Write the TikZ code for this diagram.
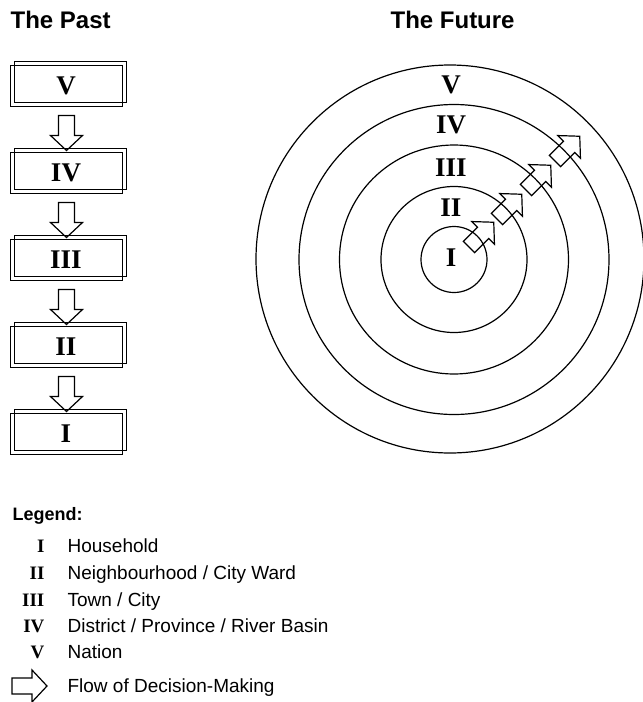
\documentclass[tikz,border=0pt]{standalone}
\usepackage{fontspec}
\setmainfont{Liberation Serif}
\setsansfont{Liberation Sans}
\usetikzlibrary{calc}

\tikzset{flowarrow/.pic={
  \draw[line join=miter] (0,-8) -- (20,-8) -- (20,-16) -- (35,0) -- (20,16) -- (20,8) -- (0,8) -- cycle;}}

\begin{document}
\begin{tikzpicture}[x=1pt, y=-1pt, line width=1.2pt,
    lvl/.style={inner sep=0pt, font=\fontsize{27}{30}\selectfont\bfseries},
    pastbox/.style={lvl, draw, line width=1pt, minimum width=112pt, minimum height=41pt,
      preaction={draw, transform canvas={xshift=4pt, yshift=4pt}}},
    head/.style={anchor=base west, inner sep=0pt, font=\sffamily\bfseries\fontsize{24}{28}\selectfont},
    key/.style={anchor=base east, inner sep=0pt, font=\fontsize{19}{22}\selectfont\bfseries},
    keytext/.style={anchor=base west, inner sep=0pt, font=\sffamily\fontsize{19}{22}\selectfont}]
  \useasboundingbox (0,0) rectangle (643,702);

  \node[head] (past) at (10,28) {The Past};
  \node[head] (future) at (390,28) {The Future};

  \node[pastbox] (P5) at (66,85.5) {V};
  \node[pastbox] (P4) at (66,172.5) {IV};
  \node[pastbox] (P3) at (66,259.5) {III};
  \node[pastbox] (P2) at (66,346.5) {II};
  \node[pastbox] (P1) at (66,433.5) {I};
  \pic[rotate=-90] at ($(P5.south)+(0.5,9)$) {flowarrow};
  \pic[rotate=-90] at ($(P4.south)+(0.5,9)$) {flowarrow};
  \pic[rotate=-90] at ($(P3.south)+(0.5,9)$) {flowarrow};
  \pic[rotate=-90] at ($(P2.south)+(0.5,9)$) {flowarrow};

  \coordinate (O) at (454,259.5);
  \draw (O) circle[radius=33];
  \draw (O) circle[radius=73];
  \draw (O) circle[radius=114.5];
  \draw (O) circle[radius=155];
  \draw (450,259) circle[radius=194];
  \node[lvl] (C1) at (451,258) {I};
  \node[lvl] (C2) at (451,207.5) {II};
  \node[lvl] (C3) at (451,167.5) {III};
  \node[lvl] (C4) at (451,124.5) {IV};
  \node[lvl] (C5) at (451,85) {V};
  \pic[rotate=45] at (469,247) {flowarrow};
  \pic[rotate=45] at (497,219) {flowarrow};
  \pic[rotate=45] at (526,190) {flowarrow};
  \pic[rotate=45] at (555,161) {flowarrow};

  \node[anchor=base west, inner sep=0pt, font=\sffamily\bfseries\fontsize{18}{21}\selectfont] (legend) at (12,520) {Legend:};
  \node[key] (K1) at (45,552) {I};
  \node[keytext] (T1) at (67,552) {Household};
  \node[key] (K2) at (45,579) {II};
  \node[keytext] (T2) at (67,579) {Neighbourhood / City Ward};
  \node[key] (K3) at (45,606) {III};
  \node[keytext] (T3) at (67,606) {Town / City};
  \node[key] (K4) at (45,632) {IV};
  \node[keytext] (T4) at (67,632) {District / Province / River Basin};
  \node[key] (K5) at (45,658) {V};
  \node[keytext] (T5) at (67,658) {Nation};
  \pic at (12,686) {flowarrow};
  \node[keytext] (T6) at (67,692) {Flow of Decision-Making};
\end{tikzpicture}
\end{document}
